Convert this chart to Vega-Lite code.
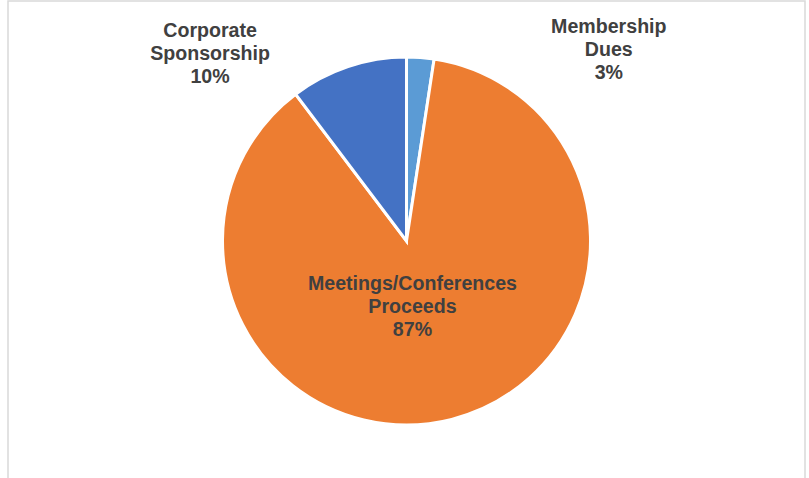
{
  "$schema": "https://vega.github.io/schema/vega-lite/v6.json",
  "width": 797,
  "height": 480,
  "autosize": {"type": "none"},
  "padding": {"left": 8, "top": 1, "right": 4, "bottom": 0},
  "background": "white",
  "view": {"stroke": "#d9d9d9", "strokeWidth": 1.5, "fill": "white"},
  "config": {
    "text": {"font": "Liberation Sans", "fontWeight": "bold", "fontSize": 19.6, "fill": "#404040", "lineHeight": 23, "align": "center", "baseline": "middle"}
  },
  "data": {
    "values": [
      {"category": "Membership Dues", "share": 2.4, "rank": 1, "label": ["Membership", "Dues", "3%"]},
      {"category": "Meetings/Conferences Proceeds", "share": 87.3, "rank": 2, "label": ["Meetings/Conferences", "Proceeds", "87%"]},
      {"category": "Corporate Sponsorship", "share": 10.3, "rank": 3, "label": ["Corporate", "Sponsorship", "10%"]}
    ]
  },
  "layer": [
    {
      "mark": {"type": "arc", "outerRadius": 184, "stroke": "white", "strokeWidth": 3},
      "encoding": {
        "theta": {"field": "share", "type": "quantitative", "stack": true, "scale": {"domain": [0, 100]}},
        "order": {"field": "rank", "type": "quantitative"},
        "color": {
          "field": "category", "type": "nominal", "legend": null,
          "scale": {
            "domain": ["Membership Dues", "Meetings/Conferences Proceeds", "Corporate Sponsorship"],
            "range": ["#5B9BD5", "#ED7D31", "#4472C4"]
          }
        }
      }
    },
    {
      "transform": [
        {"window": [{"op": "sum", "field": "share", "as": "cum"}], "sort": [{"field": "rank"}]},
        {"calculate": "datum.cum - datum.share / 2", "as": "mid"},
        {"filter": "datum.rank == 1"}
      ],
      "mark": {"type": "text", "radius": 190, "dx": 188, "dy": -25},
      "encoding": {
        "theta": {"field": "mid", "type": "quantitative", "stack": null, "scale": {"domain": [0, 100]}},
        "text": {"field": "label"}
      }
    },
    {
      "transform": [
        {"window": [{"op": "sum", "field": "share", "as": "cum"}], "sort": [{"field": "rank"}]},
        {"calculate": "datum.cum - datum.share / 2", "as": "mid"},
        {"filter": "datum.rank == 2"}
      ],
      "mark": {"type": "text", "radius": 65, "dx": -10, "dy": -20},
      "encoding": {
        "theta": {"field": "mid", "type": "quantitative", "stack": null, "scale": {"domain": [0, 100]}},
        "text": {"field": "label"}
      }
    },
    {
      "transform": [
        {"window": [{"op": "sum", "field": "share", "as": "cum"}], "sort": [{"field": "rank"}]},
        {"calculate": "datum.cum - datum.share / 2", "as": "mid"},
        {"filter": "datum.rank == 3"}
      ],
      "mark": {"type": "text", "radius": 190, "dx": -136, "dy": -30},
      "encoding": {
        "theta": {"field": "mid", "type": "quantitative", "stack": null, "scale": {"domain": [0, 100]}},
        "text": {"field": "label"}
      }
    }
  ]
}
